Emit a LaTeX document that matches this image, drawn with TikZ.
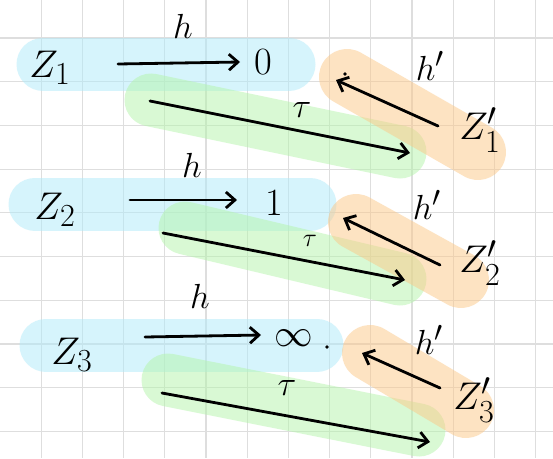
\documentclass[tikz,border=0pt]{standalone}
\usepackage{amsmath}
\usepackage{graphicx}
\usepackage{tikz}
\usetikzlibrary{arrows.meta}
\definecolor{bandblue}{RGB}{175,235,250}
\definecolor{bandgreen}{RGB}{180,245,170}
\definecolor{bandorange}{RGB}{252,200,135}
\definecolor{gridgray}{RGB}{222,222,222}
\newcommand{\termtxt}[1]{\scalebox{1.55}{\Huge #1}}
\newcommand{\labtxt}[1]{\scalebox{1.4}{\Huge #1}}
\tikzset{
  gridline/.style={draw=gridgray, line width=1.2pt},
  band/.style={line width=53pt, line cap=round, opacity=0.5},
  blueband/.style={band, draw=bandblue},
  greenband/.style={band, draw=bandgreen},
  orangeband/.style={band, draw=bandorange, line width=56pt},
  arr/.style={draw, line width=2.8pt, line cap=round,
    -{Straight Barb[length=9pt,width=16pt,line width=2.8pt]}},
  term/.style={inner sep=0pt},
  lbl/.style={inner sep=0pt},
}

\begin{document}
\begin{tikzpicture}[x=1pt, y=-1pt]
  \useasboundingbox[fill=white] (0,0) rectangle (553,458);
  % grid paper
  \foreach \i in {1,...,13}
    \draw[gridline] ({\i*41.2},0) -- ({\i*41.2},458);
  \foreach \j in {1,...,10}
    \draw[gridline] (0,{\j*43.7-5.7}) -- (553,{\j*43.7-5.7});

  % highlight bands
  \draw[blueband] (43,64) -- (289,64);
  \draw[greenband] (151,100) -- (400,152);
  \draw[orangeband] (347,77) -- (478,152);
  \draw[blueband] (35,204) -- (310,204);
  \draw[greenband] (185,228) -- (400,279);
  \draw[orangeband] (356,222) -- (461,280);
  \draw[blueband] (46,345) -- (317,345);
  \draw[greenband] (168,380) -- (419,430);
  \draw[orangeband] (370,353) -- (466,410);

  % row 1
  \node[term] (z1) at (50,68) {\termtxt{$Z_1$}};
  \node[term] (v1) at (263,62) {\termtxt{$0$}};
  \node[term] (w1) at (480,130) {\termtxt{$Z_1'$}};
  \coordinate (h1s) at (118,64);
  \coordinate (h1e) at (240,62);
  \coordinate (t1s) at (150,101);
  \coordinate (t1e) at (410,153);
  \coordinate (p1s) at (438,126);
  \coordinate (p1e) at (336,80);
  \draw[arr] (h1s) -- (h1e);
  \draw[arr] (t1s) -- (t1e);
  \draw[arr] (p1s) -- (p1e);
  \node[lbl] (lh1) at (183,26) {\labtxt{$h$}};
  \node[lbl] (lt1) at (302,110) {\labtxt{$\tau$}};
  \node[lbl] (lp1) at (430,66) {\labtxt{$h'$}};
  \fill (345,74) circle (1.8pt);

  % row 2
  \node[term] (z2) at (55,210) {\termtxt{$Z_2$}};
  \node[term] (v2) at (274,203) {\termtxt{$1$}};
  \node[term] (w2) at (480,263) {\termtxt{$Z_2'$}};
  \coordinate (h2s) at (130,200);
  \coordinate (h2e) at (237,200);
  \coordinate (t2s) at (163,233);
  \coordinate (t2e) at (405,280);
  \coordinate (p2s) at (440,265);
  \coordinate (p2e) at (343,218);
  \draw[arr] (h2s) -- (h2e);
  \draw[arr] (t2s) -- (t2e);
  \draw[arr] (p2s) -- (p2e);
  \node[lbl] (lh2) at (192,165) {\labtxt{$h$}};
  \node[lbl] (lt2) at (310,241) {\scalebox{1.05}{\Huge $\tau$}};
  \node[lbl] (lp2) at (427,205) {\labtxt{$h'$}};

  % row 3
  \node[term] (z3) at (72,355) {\termtxt{$Z_3$}};
  \node[term] (v3) at (294,338) {\termtxt{$\infty$}};
  \node[term] (w3) at (474,400) {\termtxt{$Z_3'$}};
  \coordinate (h3s) at (145,337);
  \coordinate (h3e) at (261,335);
  \coordinate (t3s) at (162,393);
  \coordinate (t3e) at (430,442);
  \coordinate (p3s) at (440,388);
  \coordinate (p3e) at (362,353);
  \draw[arr] (h3s) -- (h3e);
  \draw[arr] (t3s) -- (t3e);
  \draw[arr] (p3s) -- (p3e);
  \node[lbl] (lh3) at (200,296) {\labtxt{$h$}};
  \node[lbl] (lt3) at (287,388) {\labtxt{$\tau$}};
  \node[lbl] (lp3) at (429,340) {\labtxt{$h'$}};
  \fill (327,347) circle (1.8pt);
\end{tikzpicture}
\end{document}
